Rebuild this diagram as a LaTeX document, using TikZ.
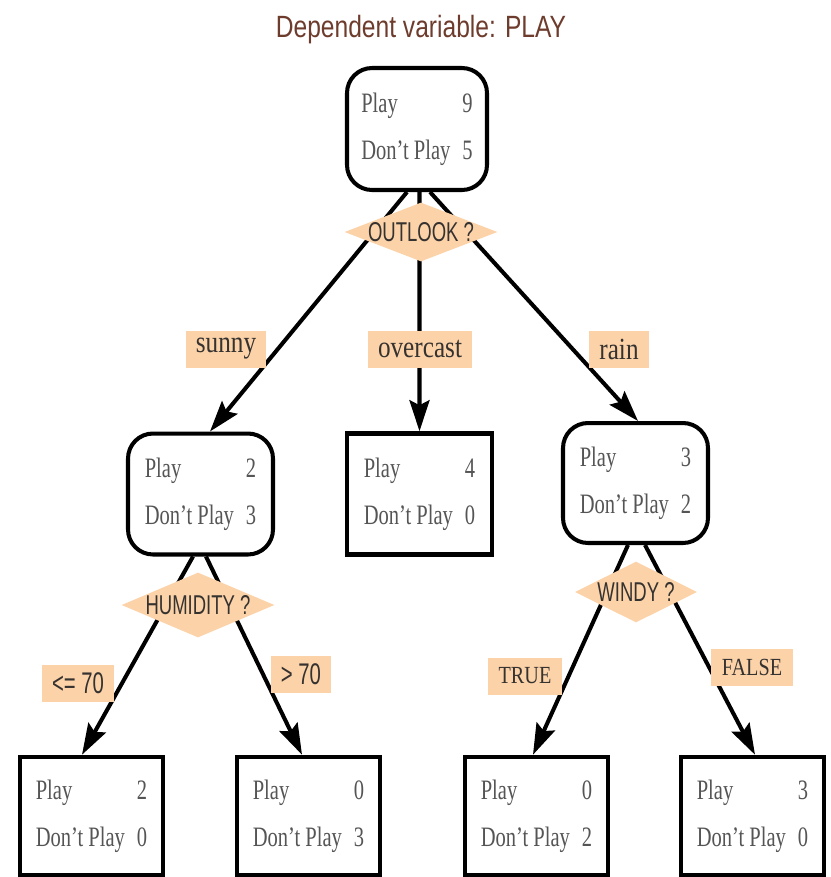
\documentclass[tikz,border=0pt]{standalone}
\usepackage{fontspec}
\setmainfont{Liberation Serif}[FakeStretch=0.73]
\newfontfamily\branchfont{Liberation Serif}[FakeStretch=0.82]
\newfontfamily\titlefont{Liberation Sans}[FakeStretch=0.8]
\newfontfamily\askfont{Liberation Sans}[FakeStretch=0.68]
\usepackage{xcolor}
\definecolor{treePeach}{HTML}{FCD3A9}
\definecolor{treeBrown}{HTML}{6E3C2D}
\definecolor{treeGray}{HTML}{555555}
\definecolor{treeInk}{HTML}{353230}
\usepackage{tikz}
\usetikzlibrary{shapes.geometric,arrows.meta,backgrounds}
\newcommand{\tally}[2]{\begin{tabular}{@{}l@{\hspace{0.24cm}}r@{}}Play & #1\\[0.26cm] Don't Play & #2\end{tabular}}

\begin{document}
\begin{tikzpicture}[x=0.02cm, y=-0.02cm,
    split/.style={draw, line width=2.3pt, rounded corners=0.5cm, fill=white, text=treeGray,
      font=\fontsize{16}{19.2}\selectfont, inner sep=0pt, minimum width=2.85cm, minimum height=2.42cm},
    leaf/.style={split, rounded corners=0pt, line width=2.6pt},
    ask/.style={diamond, fill=treePeach, inner sep=0pt},
    asktext/.style={text=treeInk, font=\askfont\fontsize{15.5}{18}\selectfont},
    branch/.style={fill=treePeach, text=treeInk, inner xsep=0.2cm, minimum height=0.74cm,
      font=\branchfont\fontsize{17.5}{21}\selectfont},
    capsbranch/.style={branch, inner xsep=0.22cm, font=\branchfont\fontsize{14}{17}\selectfont},
    edge/.style={line width=2.3pt, -{Stealth[length=0.62cm, width=0.4cm, inset=0.1cm]}}]
  \useasboundingbox (0,0) rectangle (831,877);
  % title
  \node[anchor=base, text=treeBrown, font=\titlefont\fontsize{17.5}{21}\selectfont] (title) at (421,37)
    {Dependent variable: PLAY};
  % tree nodes
  \node[split, minimum width=2.8cm, minimum height=2.44cm] (root) at (417,129) {\tally{9}{5}};
  \node[split, minimum width=2.9cm] (sunnyBox) at (200.5,494) {\tally{2}{3}};
  \node[leaf, minimum width=2.9cm] (overcastBox) at (419.5,494) {\tally{4}{0}};
  \node[split, minimum width=2.9cm, minimum height=2.4cm] (rainBox) at (635.5,483) {\tally{3}{2}};
  \node[leaf, minimum width=2.86cm, minimum height=2.36cm] (lowHum) at (91.5,816) {\tally{2}{0}};
  \node[leaf, minimum width=2.86cm, minimum height=2.36cm] (highHum) at (308.5,816) {\tally{0}{3}};
  \node[leaf, minimum width=2.86cm, minimum height=2.36cm] (windyTrue) at (536.5,816) {\tally{0}{2}};
  \node[leaf, minimum width=2.86cm, minimum height=2.36cm] (windyFalse) at (752.5,816) {\tally{3}{0}};
  % questions
  \node[ask, minimum width=3.06cm, minimum height=1.18cm, label={[asktext]center:OUTLOOK ?}] (outlook) at (421,232) {};
  \node[ask, minimum width=3.06cm, minimum height=1.3cm, label={[asktext]center:HUMIDITY ?}] (humidity) at (198,605) {};
  \node[ask, minimum width=2.44cm, minimum height=1.22cm, label={[asktext]center:WINDY ?}] (windy) at (636,592) {};
  % edges
  \begin{scope}[on background layer]
    \draw[edge] ([xshift=-0.2cm]root.south) -- ([xshift=0.19cm]sunnyBox.north);
    \draw[edge] ([xshift=0.05cm]root.south) -- (overcastBox.north);
    \draw[edge] ([xshift=0.26cm]root.south) -- ([xshift=0.05cm]rainBox.north);
    \draw[edge] ([xshift=-0.15cm]sunnyBox.south) -- ([xshift=-0.19cm]lowHum.north);
    \draw[edge] ([xshift=0.11cm]sunnyBox.south) -- ([xshift=-0.13cm]highHum.north);
    \draw[edge] ([xshift=-0.15cm]rainBox.south) -- ([xshift=-0.07cm]windyTrue.north);
    \draw[edge] ([xshift=0.19cm]rainBox.south) -- ([xshift=0.05cm]windyFalse.north);
  \end{scope}
  % branch labels
  \node[branch] (sunny) at (226,349) {sunny};
  \node[branch] (overcast) at (420,349) {overcast};
  \node[branch] (rain) at (619,349) {rain};
  \node[branch, font=\askfont\fontsize{17}{20}\selectfont] (le70) at (78,683) {<= 70};
  \node[branch, font=\askfont\fontsize{17}{20}\selectfont] (gt70) at (301,674) {> 70};
  \node[capsbranch] (isTrue) at (525,676) {TRUE};
  \node[capsbranch] (isFalse) at (752,667) {FALSE};
\end{tikzpicture}
\end{document}
